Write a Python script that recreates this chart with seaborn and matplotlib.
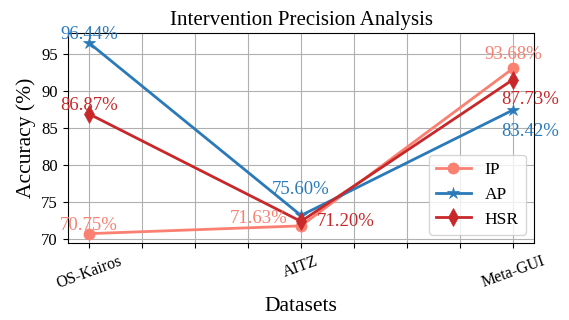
import numpy as np
import pandas as pd
import matplotlib
matplotlib.use("Agg")
import matplotlib.pyplot as plt
import seaborn as sns

# ---- data ----
datasets = ["OS-Kairos", "AITZ", "Meta-GUI"]
series_names = ["IP", "AP", "HSR"]
ip_values = [70.75, 71.8, 93.0]
ap_values = [96.44, 73.2, 87.4]
hsr_values = [86.87, 72.4, 91.5]
ip_labels = [70.75, 71.63, 93.68]
ap_labels = [96.44, 75.60, 83.42]
hsr_labels = [86.87, 71.20, 87.73]

# ---- style ----
plt.rcParams["font.family"] = ["Liberation Serif", "DejaVu Serif"]
plt.rcParams["mathtext.fontset"] = "stix"

colors = {"IP": "#fa8072", "AP": "#2a7ab9", "HSR": "#c8282a"}
markers = {"IP": "o", "AP": "*", "HSR": "d"}
msizes = {"IP": 8, "AP": 9, "HSR": 9}
# label x-offsets (in category units) for each series at each dataset
label_dx = {"IP": [0.0, -0.2, 0.0], "AP": [0.0, 0.0, 0.08], "HSR": [0.0, 0.21, 0.08]}

values = {"IP": ip_values, "AP": ap_values, "HSR": hsr_values}
labels = {"IP": ip_labels, "AP": ap_labels, "HSR": hsr_labels}

rows = []
for name in series_names:
    for i, d in enumerate(datasets):
        rows.append({"pos": i, "dataset": d, "metric": name, "value": values[name][i]})
df = pd.DataFrame(rows)

fig = plt.figure(figsize=(5.69, 3.2), dpi=100)
ax = fig.add_axes([0.119, 0.240, 0.820, 0.656])

for name in series_names:
    sub = df[df["metric"] == name]
    sns.lineplot(data=sub, x="pos", y="value", ax=ax, color=colors[name],
                 marker=markers[name], markersize=msizes[name], linewidth=2,
                 mec=colors[name], mew=0.5, label=name, zorder=3)
    for i in range(len(datasets)):
        ax.text(i + label_dx[name][i], labels[name][i], f"{labels[name][i]:.2f}%",
                color=colors[name], fontsize=13.5, ha="center", va="bottom", zorder=4)

ticks = np.arange(0, len(datasets) - 1 + 0.001, 0.25)
ax.set_xticks(ticks)
ax.set_xticklabels([datasets[int(t)] if abs(t - round(t)) < 1e-9 else "" for t in ticks],
                   rotation=20, fontsize=11.5)
ax.tick_params(axis="y", labelsize=12)
ax.set_yticks([70, 75, 80, 85, 90, 95])
ax.grid(True, color="#b0b0b0", linewidth=0.8)
ax.set_axisbelow(True)

ax.set_title("Intervention Precision Analysis", fontsize=15)
ax.set_xlabel("Datasets", fontsize=15.5)
ax.set_ylabel("Accuracy (%)", fontsize=15.5)
ax.legend(loc="lower right", fontsize=12.5)

fig.savefig("out.png", dpi=100)
